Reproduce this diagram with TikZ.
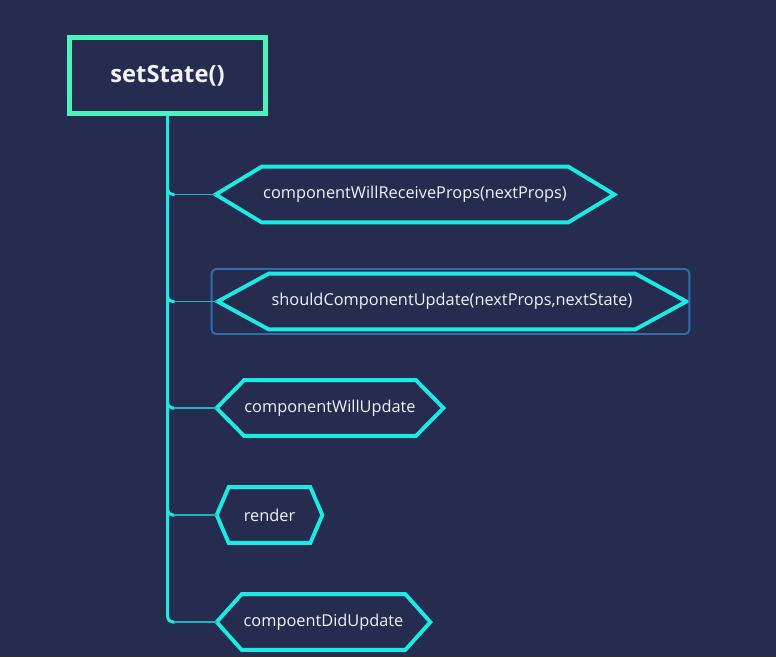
\documentclass[tikz,border=0pt]{standalone}
\usepackage{fontspec}
\setmainfont{Open Sans}
\usepackage{tikz}
\usetikzlibrary{ positioning, calc }
\usepackage{xcolor}
\definecolor{navy}{HTML}{252C4F}
\definecolor{mint}{HTML}{4CF4BC}
\definecolor{aqua}{HTML}{18ECE4}
\definecolor{twig}{HTML}{22B4BA}
\definecolor{hilite}{HTML}{2F6EAA}
\definecolor{ink}{HTML}{F2F3F8}

% hexagon node: name, x, y, inner width, slant, text
\newcommand{\hexnode}[6]{%
  \node[hextext, minimum width={#4*0.02cm}] (#1) at (#2,#3) {#6};
  \draw[hexline] (#1.north west) -- (#1.north east) -- ($(#1.east)+(#5,0)$)
    -- (#1.south east) -- (#1.south west) -- ($(#1.west)-(#5,0)$) coordinate (#1-tip) -- cycle;
}

\begin{document}
\begin{tikzpicture}[x=0.02cm, y=-0.02cm,
  every node/.style={font=\fontsize{9.3}{11}\selectfont, text=ink},
  rootbox/.style={draw=mint, line width=2.8pt, fill=navy, minimum width={196*0.02cm}, minimum height={76*0.02cm}, font=\fontsize{13.5}{16}\selectfont\bfseries},
  hextext/.style={inner sep=0pt, minimum height={55*0.02cm}},
  hexline/.style={draw=aqua, line width=2.2pt, line join=miter},
  trunk/.style={draw=aqua, line width=1.7pt, rounded corners=3pt},
  twigline/.style={draw=twig, line width=1.1pt}]
  \fill[navy] (0,0) rectangle (776,657);

  % root
  \node[rootbox] (root) at (167.5,75.5) {setState()};

  % lifecycle hooks
  \hexnode{cwrp}{415}{194.5}{306}{46}{componentWillReceiveProps(nextProps)}
  \hexnode{scu}{452}{301.5}{366}{51}{shouldComponentUpdate(nextProps,nextState)}
  \hexnode{cwu}{330}{408}{170}{27.5}{componentWillUpdate}
  \hexnode{rnd}{269.5}{515}{81}{12}{render}
  \hexnode{cdu}{323.5}{622}{163}{25}{compoentDidUpdate}

  % highlight round scu
  \draw[hilite, line width=1.1pt, rounded corners=2.5pt] ($(scu-tip)+(-6,-32.5)$) rectangle ($(scu.east)+(54,32.5)$);

  % branches
  \foreach \h in {cwrp, scu, cwu, rnd, cdu} {
    \coordinate (\h-b) at ($(root.south |- \h-tip)+(7,0)$);
    \draw[trunk] (root.south) |- (\h-b);
    \draw[twigline] (\h-b) -- (\h-tip);
  }
\end{tikzpicture}
\end{document}
